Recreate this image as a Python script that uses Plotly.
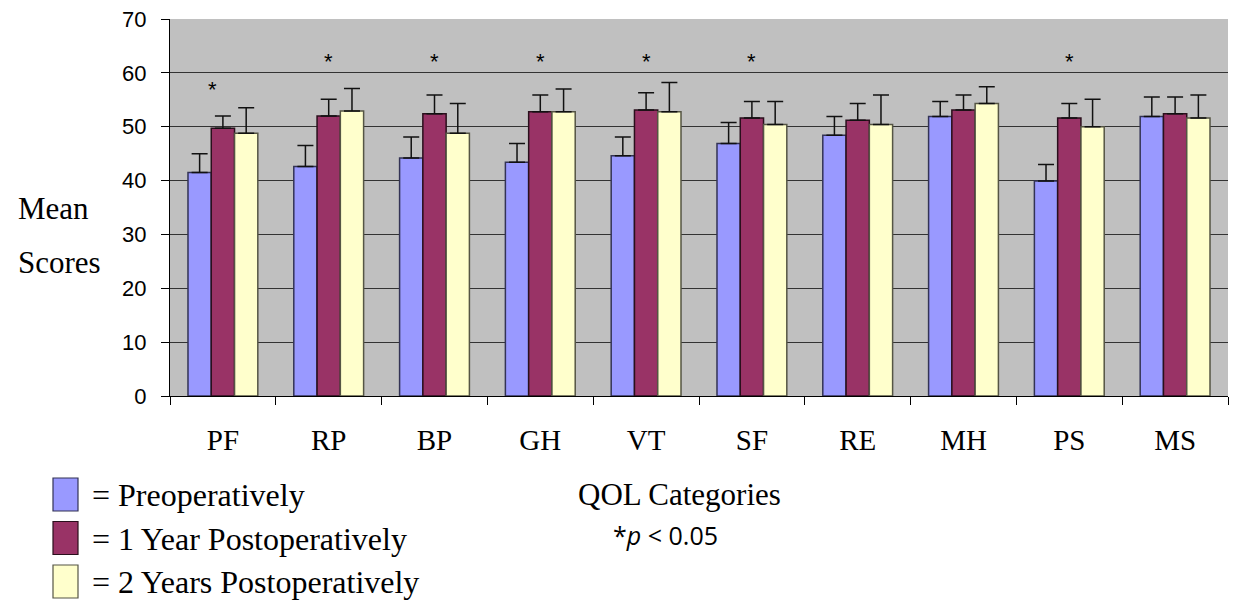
import plotly.graph_objects as go

categories = ["PF", "RP", "BP", "GH", "VT", "SF", "RE", "MH", "PS", "MS"]
pre = [41.5, 42.6, 44.2, 43.4, 44.6, 46.9, 48.4, 51.9, 39.9, 51.9]
pre_err = [3.5, 3.9, 3.9, 3.5, 3.5, 3.9, 3.5, 2.8, 3.1, 3.6]
yr1 = [49.7, 52.0, 52.4, 52.8, 53.1, 51.6, 51.2, 53.1, 51.6, 52.4]
yr1_err = [2.3, 3.1, 3.5, 3.1, 3.2, 3.1, 3.1, 2.8, 2.7, 3.1]
yr2 = [48.8, 52.9, 48.8, 52.8, 52.8, 50.4, 50.4, 54.3, 50.0, 51.6]
yr2_err = [4.7, 4.2, 5.5, 4.2, 5.4, 4.3, 5.5, 3.1, 5.1, 4.3]
star_cats = ["PF", "RP", "BP", "GH", "VT", "SF", "PS"]
star_y = [57.0, 62.1, 62.1, 62.1, 62.1, 62.1, 62.1]
series_names = ["= Preoperatively", "= 1 Year Postoperatively", "= 2 Years Postoperatively"]
colors = ["#9999ff", "#993366", "#ffffcc"]
outline = ["#333355", "#2a0f1c", "#555544"]

SERIF = "Liberation Serif, Times New Roman, serif"

# page pixel geometry of the plot area (page has 8px body margin)
PX0, PX1, PY0, PY1 = 170, 1228, 19, 396


def px(x):
    return (x - PX0) / (PX1 - PX0)


def py(y):
    return (PY1 - y) / (PY1 - PY0)


fig = go.Figure()
for name, vals, errs, col, oc in zip(series_names, [pre, yr1, yr2], [pre_err, yr1_err, yr2_err], colors, outline):
    fig.add_trace(go.Bar(
        x=categories, y=vals, name=name,
        marker=dict(color=col, line=dict(color=oc, width=1.5)),
        error_y=dict(type="data", symmetric=False, array=errs,
                     arrayminus=[0] * len(errs), color="#111111", thickness=1.5, width=8),
        showlegend=False,
    ))

for c, y in zip(star_cats, star_y):
    fig.add_annotation(x=c, y=y, text="*", showarrow=False, xref="x", yref="y",
                       xshift=-10 if c == "PF" else 0,
                       font=dict(family="Liberation Sans", size=22, color="#000"))

# custom legend
for i, (name, col, oc) in enumerate(zip(series_names, colors, outline)):
    top = 478 + i * 43.5
    fig.add_shape(type="rect", xref="paper", yref="paper",
                  x0=px(53), x1=px(78), y0=py(top + 33), y1=py(top),
                  fillcolor=col, line=dict(color=oc, width=1.2))
    fig.add_annotation(xref="paper", yref="paper", x=px(90),
                       y=py(top + 17), text=name, showarrow=False,
                       xanchor="left", yanchor="middle",
                       font=dict(family=SERIF, size=32, color="#000"))

fig.add_annotation(xref="paper", yref="paper", x=px(679), y=py(494),
                   text="QOL Categories", showarrow=False, xanchor="center", yanchor="middle",
                   font=dict(family=SERIF, size=31, color="#000"))
fig.add_annotation(xref="paper", yref="paper", x=px(665), y=py(535),
                   text="*<i>p</i> < 0.05", showarrow=False, xanchor="center", yanchor="middle",
                   font=dict(family="Open Sans", size=25, color="#000"))
fig.add_annotation(xref="paper", yref="paper", x=px(16), y=py(208),
                   text="Mean", showarrow=False, xanchor="left", yanchor="middle",
                   font=dict(family=SERIF, size=31, color="#000"))
fig.add_annotation(xref="paper", yref="paper", x=px(16), y=py(262),
                   text="Scores", showarrow=False, xanchor="left", yanchor="middle",
                   font=dict(family=SERIF, size=31, color="#000"))

fig.update_layout(
    width=1238, height=614,
    margin=dict(l=PX0 - 8, r=1238 - PX1 + 8, t=PY0 - 8, b=614 - PY1 + 8),
    paper_bgcolor="white", plot_bgcolor="#c0c0c0",
    barmode="group", bargap=0.34, bargroupgap=0.0,
    showlegend=False,
)
fig.update_yaxes(range=[0, 70], dtick=10, showgrid=True, gridcolor="#333333", gridwidth=1.2,
                 showline=True, linecolor="#000", linewidth=1.2, ticks="outside", ticklen=8,
                 tickcolor="#000", tickfont=dict(family="Liberation Sans", size=22, color="#000"),
                 ticklabelstandoff=10, ticklabeloverflow="allow", automargin=False,
                 zeroline=False)
fig.update_xaxes(showline=True, linecolor="#000", linewidth=1.2, ticks="outside", ticklen=8,
                 tickcolor="#000", tickson="boundaries", ticklabelstandoff=18, automargin=False,
                 tickfont=dict(family=SERIF, size=29, color="#000"))

fig.write_html("out.html")
